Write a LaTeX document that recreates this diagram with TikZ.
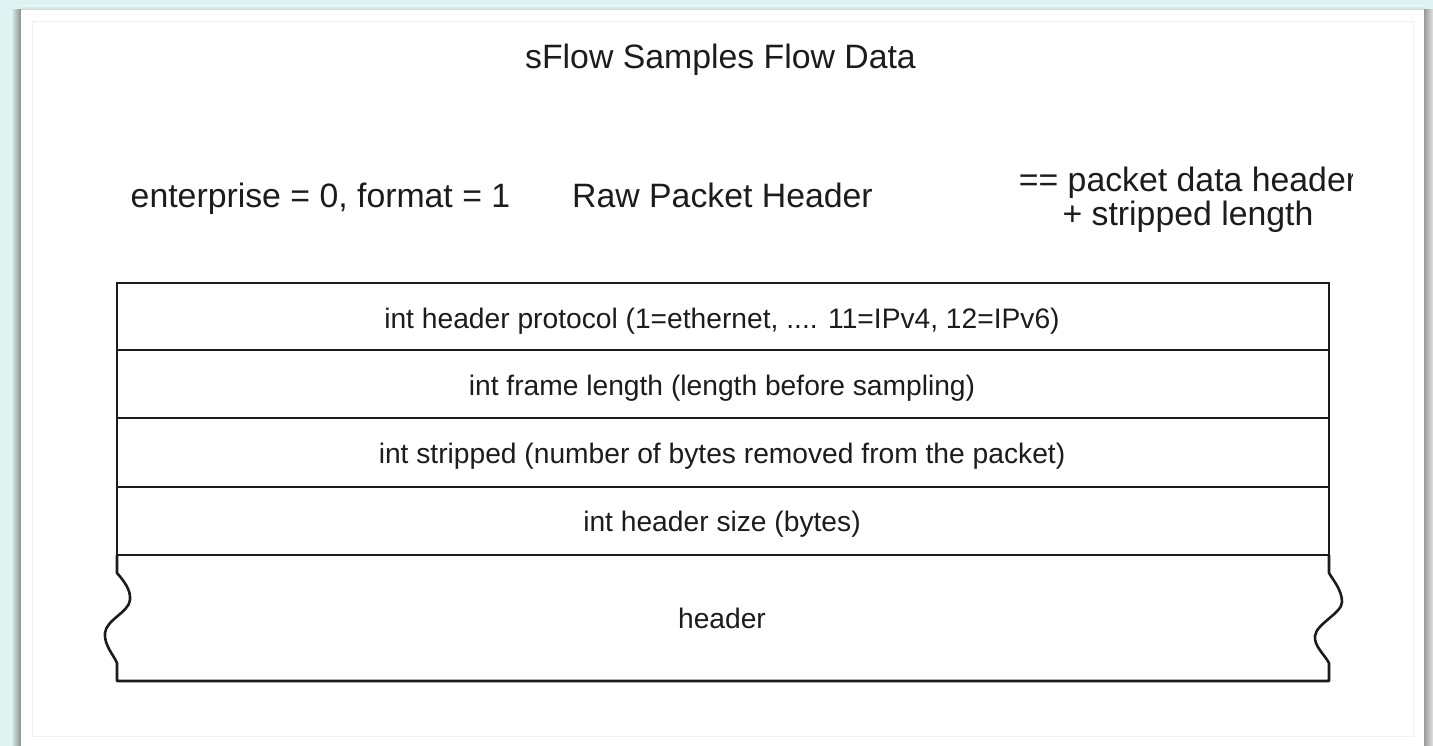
\documentclass[tikz,border=0pt]{standalone}
\usepackage{fontspec}
\setmainfont{Liberation Sans}
\definecolor{screenbg}{RGB}{223,244,242}
\definecolor{inkcol}{RGB}{28,28,28}
\begin{document}
\begin{tikzpicture}[x=1pt,y=-1pt,
  bigtext/.style={font=\fontsize{33.8}{36}\selectfont, text=inkcol, inner sep=0pt, anchor=base},
  rowtext/.style={font=\fontsize{28.2}{32}\selectfont, text=inkcol, inner sep=0pt, anchor=base},
  tableline/.style={line width=2.6pt, draw=inkcol, line cap=rect, line join=miter}]
\useasboundingbox (0,0) rectangle (1433,746);
% screen background
\fill[screenbg] (0,0) rectangle (1433,746);
% page shadows
\shade[left color=screenbg, right color=black!45] (11,10) rectangle (21,746);
\shade[left color=black!40, right color=screenbg!60!black!25] (1424,10) rectangle (1433,746);
\shade[top color=screenbg, bottom color=black!18] (21,6) rectangle (1424,10);
% page
\fill[white] (21,10) rectangle (1424,746);
\draw[black!6, line width=1pt] (32,22) rectangle (1413,736);
% title and labels
\node[bigtext] (title) at (720.5,69) {sFlow Samples Flow Data};
\node[bigtext] (ent) at (320.5,208) {enterprise = 0, format = 1};
\node[bigtext] (raw) at (722.5,208) {Raw Packet Header};
\begin{scope}
\clip (1000,150) rectangle (1352,240);
\node[bigtext] (eq1) at (1188,192) {== packet data header};
\node[bigtext] (eq2) at (1188,226) {+ stripped length};
\end{scope}
% table
\draw[tableline] (117,555) -- (117,283) -- (1329,283) -- (1329,555);
\draw[tableline] (117,350) -- (1329,350);
\draw[tableline] (117,418) -- (1329,418);
\draw[tableline] (117,487) -- (1329,487);
\draw[tableline] (117,555) -- (1329,555);
% last row with wavy (torn) sides
\draw[tableline, line join=round, line cap=butt] (117,555) -- (117,573)
  .. controls (124,581) and (131,590) .. (130,600)
  .. controls (129,612) and (106,620) .. (105,633)
  .. controls (104,645) and (113,654) .. (117,663)
  -- (117,681) -- (1329,681) -- (1329,663)
  .. controls (1324,654) and (1314,646) .. (1315,636)
  .. controls (1316,624) and (1342,613) .. (1342,602)
  .. controls (1342,590) and (1333,580) .. (1329,573)
  -- (1329,555);
% row texts
\node[rowtext] (r1) at (722,328) {int header protocol (1=ethernet, .... 11=IPv4, 12=IPv6)};
\node[rowtext] (r2) at (722,395) {int frame length (length before sampling)};
\node[rowtext] (r3) at (722,463) {int stripped (number of bytes removed from the packet)};
\node[rowtext] (r4) at (722,531) {int header size (bytes)};
\node[rowtext] (r5) at (722,628) {header};
\end{tikzpicture}
\end{document}
